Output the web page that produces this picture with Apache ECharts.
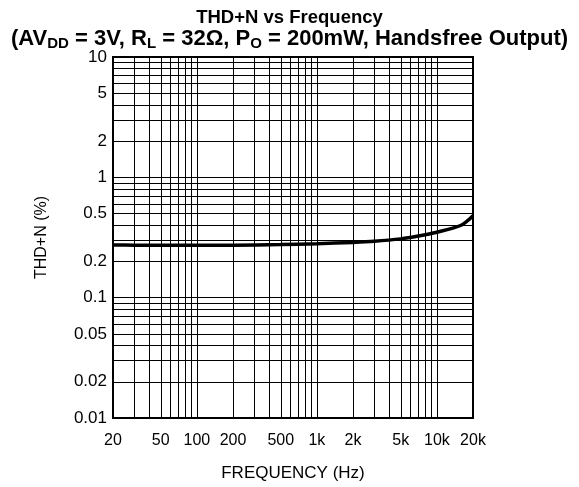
<!DOCTYPE html>
<html>
<head>
<meta charset="utf-8">
<script src="https://cdn.jsdelivr.net/npm/echarts@6/dist/echarts.min.js"></script>
<style>
  html, body { margin: 0; padding: 0; background: #fff; }
  #chart { width: 579px; height: 487px; }
</style>
</head>
<body>
<div id="chart"></div>
<script>
// curve (Hz, %)
const freqHz = [20, 30, 50, 100, 200, 500, 1000, 2000, 3000, 5000, 7000, 10000, 15900, 20000];
const thdPct = [0.274, 0.273, 0.272, 0.272, 0.273, 0.276, 0.281, 0.288, 0.294, 0.308, 0.325, 0.35, 0.40, 0.48];

// tick labels
const xTickValues = [20, 50, 100, 200, 500, 1000, 2000, 5000, 10000, 20000];
const xTickText = ['20', '50', '100', '200', '500', '1k', '2k', '5k', '10k', '20k'];
const yTickValues = [0.01, 0.02, 0.05, 0.1, 0.2, 0.5, 1, 2, 5, 10];
const yTickText = ['0.01', '0.02', '0.05', '0.1', '0.2', '0.5', '1', '2', '5', '10'];

// decades for the log grid
const xDecades = [10, 100, 1000, 10000];
const yDecades = [0.01, 0.1, 1, 10];

const FONT = 'Liberation Sans, Arial, sans-serif';

// 1..9 lines of every decade inside [lo, hi], labelled where a tick label exists
function logGrid(decades, lo, hi, axisKey, tickVals, tickText) {
  let out = [];
  decades.forEach(function (d) {
    for (let m = 1; m <= 9; m++) {
      let v = +(d * m).toPrecision(6);
      if (v < lo || v > hi) continue;
      let item = {};
      item[axisKey] = v;
      let k = tickVals.indexOf(v);
      if (k >= 0) item.label = { show: true, formatter: tickText[k] };
      out.push(item);
    }
  });
  return out;
}

let xLines = logGrid(xDecades, 20, 20000, 'xAxis', xTickValues, xTickText);
let yLines = logGrid(yDecades, 0.01, 10, 'yAxis', yTickValues, yTickText);

let mychart = echarts.init(document.getElementById('chart'));
let options = {
  animation: false,
  backgroundColor: '#fff',
  title: {
    left: 'center',
    top: 3,
    text: '{a|THD+N vs Frequency}\n{t|(AV}{s|DD}{t| = 3V, R}{s|L}{t| = 32Ω, P}{s|O}{t| = 200mW, Handsfree Output)}',
    textStyle: {
      rich: {
        a: { fontFamily: FONT, fontSize: 18.5, fontWeight: 'bold', color: '#000', lineHeight: 19 },
        t: { fontFamily: FONT, fontSize: 22, fontWeight: 'bold', color: '#000', lineHeight: 24 },
        s: { fontFamily: FONT, fontSize: 15, fontWeight: 'bold', color: '#000', lineHeight: 24, verticalAlign: 'bottom' }
      }
    }
  },
  grid: {
    left: 113,
    right: 106,
    top: 57,
    bottom: 69,
    show: true,
    borderColor: '#000',
    borderWidth: 2,
    backgroundColor: 'transparent'
  },
  xAxis: {
    type: 'log',
    logBase: 10,
    min: 20,
    max: 20000,
    name: 'FREQUENCY (Hz)',
    nameLocation: 'middle',
    nameGap: 47,
    nameTextStyle: { fontFamily: FONT, fontSize: 17, color: '#000' },
    axisLine: { show: false },
    axisTick: { show: false },
    axisLabel: { show: false },
    splitLine: { show: false }
  },
  yAxis: {
    type: 'log',
    logBase: 10,
    min: 0.01,
    max: 10,
    name: 'THD+N (%)',
    nameLocation: 'middle',
    nameGap: 63,
    nameTextStyle: { fontFamily: FONT, fontSize: 16, color: '#000' },
    axisLine: { show: false },
    axisTick: { show: false },
    axisLabel: { show: false },
    splitLine: { show: false }
  },
  series: [
    {
      name: 'grid-x',
      type: 'line',
      data: [],
      z: 1,
      markLine: {
        silent: true,
        symbol: ['none', 'none'],
        lineStyle: { color: '#000', width: 1, type: 'solid' },
        label: { show: false, position: 'start', distance: 15, fontFamily: FONT, fontSize: 16, color: '#000' },
        emphasis: { disabled: true },
        data: xLines
      }
    },
    {
      name: 'grid-y',
      type: 'line',
      data: [],
      z: 1,
      markLine: {
        silent: true,
        symbol: ['none', 'none'],
        lineStyle: { color: '#000', width: 1, type: 'solid' },
        label: { show: false, position: 'start', distance: 6, fontFamily: FONT, fontSize: 17, color: '#000' },
        emphasis: { disabled: true },
        data: yLines
      }
    },
    {
      name: 'THD+N',
      type: 'line',
      z: 3,
      smooth: 0.3,
      showSymbol: false,
      lineStyle: { color: '#000', width: 3.5 },
      data: freqHz.map(function (f, i) { return [f, thdPct[i]]; })
    }
  ]
};
mychart.setOption(options);
</script>
</body>
</html>
